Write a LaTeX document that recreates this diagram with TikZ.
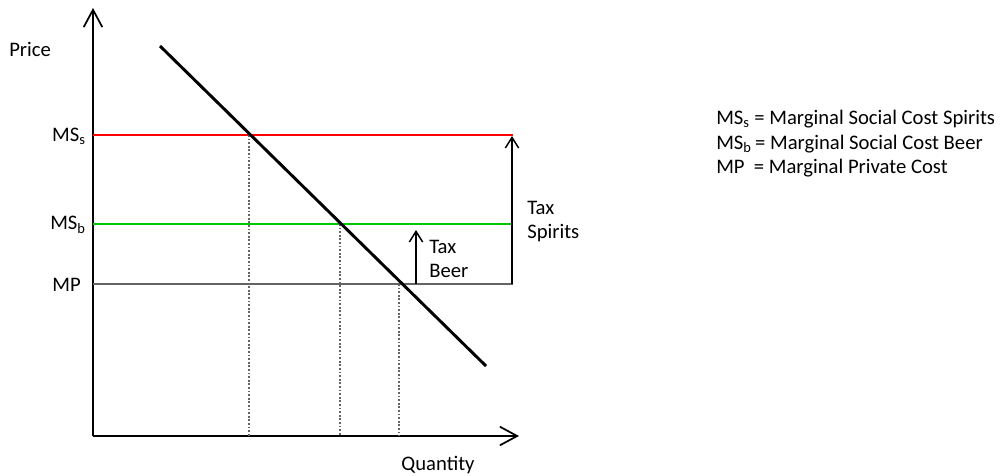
\documentclass[tikz,border=0pt]{standalone}
\usepackage{fontspec}
\setmainfont{Carlito}
\usetikzlibrary{arrows.meta}
\definecolor{msred}{RGB}{255,0,0}
\definecolor{msgreen}{RGB}{0,200,0}
\definecolor{mpgray}{RGB}{100,100,100}
\begin{document}
\begin{tikzpicture}[x=0.75pt,y=-0.75pt,
  every node/.style={font=\fontsize{15.5}{18}\selectfont, inner sep=0pt},
  axis/.style={line width=1.5pt, -{Straight Barb[length=13pt,width=14pt,line width=1.3pt]}},
  taxarrow/.style={line width=1.2pt, -{Straight Barb[length=8pt,width=10pt,line width=1.1pt]}},
  level/.style={line width=1.6pt},
  guide/.style={mpgray, line width=1.3pt, dash pattern=on 1.3pt off 1.4pt},
  curve/.style={line width=2.2pt}]
\useasboundingbox (0,0) rectangle (1005,475);
% axes
\coordinate (O) at (93,436);
\coordinate (ytip) at (93,8);
\coordinate (xtip) at (519,436);
\draw[axis] (O) -- (ytip);
\draw[axis] (O) -- (xtip);
% level lines
\coordinate (sL) at (93,135); \coordinate (sR) at (513,135);
\coordinate (bL) at (93,224); \coordinate (bR) at (513,224);
\coordinate (pL) at (93,284); \coordinate (pR) at (513,284);
\draw[level, msred] (sL) -- (sR);
\draw[level, msgreen] (bL) -- (bR);
\draw[level, mpgray] (pL) -- (pR);
% dotted guides
\coordinate (g1t) at (249,135); \coordinate (g1b) at (249,436);
\coordinate (g2t) at (340,224); \coordinate (g2b) at (340,436);
\coordinate (g3t) at (399,284); \coordinate (g3b) at (399,436);
\draw[guide] (g1t) -- (g1b);
\draw[guide] (g2t) -- (g2b);
\draw[guide] (g3t) -- (g3b);
% demand curve
\coordinate (d1) at (160,46); \coordinate (d2) at (486,366);
\draw[curve] (d1) -- (d2);
% tax arrows
\coordinate (ts0) at (512,284); \coordinate (ts1) at (512,136);
\coordinate (tb0) at (416,284); \coordinate (tb1) at (416,230);
\draw[taxarrow] (ts0) -- (ts1);
\draw[taxarrow] (tb0) -- (tb1);
% labels
\node[anchor=west] (price) at (9,49) {Price};
\node[anchor=east] (lms) at (86,136) {MS\textsubscript{s}};
\node[anchor=east] (lmb) at (86,225) {MS\textsubscript{b}};
\node[anchor=east] (lmp) at (81,285) {MP};
\node[anchor=west, align=left] (tsp) at (527,222) {Tax\\Spirits};
\node[anchor=west, align=left] (tbe) at (429,259) {Tax\\Beer};
\node (qty) at (438,465) {Quantity};
% legend
\node[anchor=west] (leg1) at (716,119) {MS\textsubscript{s} = Marginal Social Cost Spirits};
\node[anchor=west] (leg2) at (716,144) {MS\textsubscript{b}\,= Marginal Social Cost Beer};
\node[anchor=west] (leg3) at (716,168) {MP\hspace{0.45em}= Marginal Private Cost};
\end{tikzpicture}
\end{document}
